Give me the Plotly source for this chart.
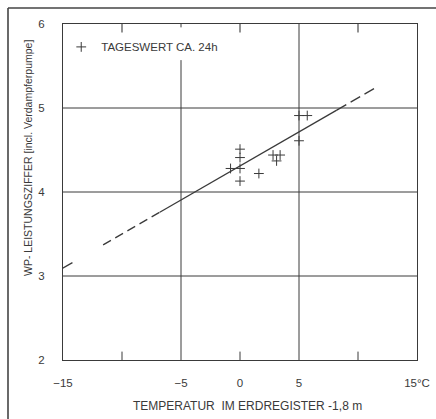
import plotly.graph_objects as go

# Daily values (Tageswerte)
temp = [5.0, 5.7, 5.0, 0.0, 0.0, -0.8, 0.0, 0.0, 1.6, 2.8, 3.1, 3.4]
cop = [4.91, 4.91, 4.61, 4.51, 4.41, 4.28, 4.28, 4.13, 4.22, 4.44, 4.37, 4.44]

# Regression line
fit_intercept = 4.31
fit_slope = 0.081
fit_dash_a = [-15.1, -14.2]
fit_dash_b = [-11.6, -6.8]
fit_solid = [-6.8, 8.2]
fit_dash_c = [8.2, 11.4]

x_ticks = [-15, -5, 0, 5, 15]
x_ticktext = ["\u221215", "\u22125", "0", "5", "15\u00b0C"]
y_ticks = [2, 3, 4, 5, 6]
x_grid = [5]
x_grid_partial = [-5]
y_grid = [3, 4, 5]
x_minor_bottom = [-10, 0, 10]
x_minor_top = [-10, 0, 10]

x_title = "TEMPERATUR  IM ERDREGISTER -1,8 m"
y_title = "WP- LEISTUNGSZIFFER [incl. Verdampferpumpe]"

INK = "#3a3a3a"
FONT = "Liberation Sans, DejaVu Sans, sans-serif"


def fy(xs):
    return [fit_intercept + fit_slope * v for v in xs]


fig = go.Figure()

for seg, dash in [(fit_dash_a, "solid"), (fit_dash_b, "9px,5px"),
                  (fit_solid, "solid"), (fit_dash_c, "11px,5px")]:
    fig.add_trace(go.Scatter(x=seg, y=fy(seg), mode="lines", showlegend=False,
                             line=dict(color=INK, width=1.3, dash=dash),
                             hoverinfo="skip", cliponaxis=False))

fig.add_trace(go.Scatter(
    x=temp, y=cop, mode="markers", name="TAGESWERT CA. 24h",
    marker=dict(symbol="cross-thin", size=7, line=dict(color=INK, width=1), color=INK),
))

shapes = []
for g in y_grid:
    shapes.append(dict(type="line", xref="x", yref="y", x0=-15, x1=15, y0=g, y1=g,
                       line=dict(color=INK, width=1)))
for g in x_grid:
    shapes.append(dict(type="line", xref="x", yref="y", x0=g, x1=g, y0=2, y1=6,
                       line=dict(color=INK, width=1)))
for g in x_grid_partial:
    shapes.append(dict(type="line", xref="x", yref="y", x0=g, x1=g, y0=2, y1=5.57,
                       line=dict(color=INK, width=1)))
for t in x_minor_bottom:
    shapes.append(dict(type="line", xref="x", yref="y", x0=t, x1=t, y0=1.98, y1=2.1,
                       line=dict(color=INK, width=1)))
for t in x_minor_top:
    shapes.append(dict(type="line", xref="x", yref="y", x0=t, x1=t, y0=5.9, y1=6.04,
                       line=dict(color=INK, width=1.1)))
# small top tick at -5
shapes.append(dict(type="line", xref="x", yref="y", x0=-5, x1=-5, y0=5.96, y1=6.0,
                   line=dict(color=INK, width=1)))
# outer frame (top and left edges) in pixel-based paper fractions
fx = (8 - 63) / 354
fy_top = 1 + (24 - 8) / 336
shapes.append(dict(type="line", xref="paper", yref="paper",
                   x0=fx, x1=(436 - 63) / 354, y0=fy_top, y1=fy_top,
                   line=dict(color="#444", width=1.6)))
shapes.append(dict(type="line", xref="paper", yref="paper",
                   x0=fx, x1=fx, y0=-(59 / 336), y1=fy_top,
                   line=dict(color="#444", width=1.6)))

annotations = [
    dict(text=x_title, xref="paper", yref="paper", x=(247 - 63) / 354, y=-(406 - 360) / 336,
         xanchor="center", yanchor="middle", showarrow=False,
         font=dict(size=12, color=INK, family=FONT)),
    dict(text=y_title, xref="paper", yref="paper", x=(28 - 63) / 354, y=(360 - 158) / 336,
         xanchor="center", yanchor="middle", showarrow=False, textangle=-90,
         font=dict(size=10.5, color=INK, family=FONT)),
]

fig.update_layout(
    width=436, height=419,
    margin=dict(l=63, r=19, t=24, b=59, autoexpand=False),
    paper_bgcolor="white", plot_bgcolor="white",
    font=dict(family=FONT, size=11.5, color=INK),
    shapes=shapes,
    annotations=annotations,
    showlegend=True,
    legend=dict(x=-0.005, y=0.975, xanchor="left", yanchor="top",
                bgcolor="rgba(0,0,0,0)", font=dict(size=11.5, color=INK),
                itemwidth=30),
    xaxis=dict(range=[-15, 15], tickvals=x_ticks, ticktext=x_ticktext,
               showgrid=False, zeroline=False, showline=True, mirror=True,
               linecolor=INK, linewidth=1.2, ticks="", ticklabelstandoff=12,
               automargin=False),
    yaxis=dict(range=[2, 6], tickvals=y_ticks,
               showgrid=False, zeroline=False, showline=True, mirror=True,
               linecolor=INK, linewidth=1.2, ticks="", ticklabelstandoff=15,
               automargin=False),
)

fig.write_html("out.html", config={"displayModeBar": False},
               post_script="document.body.style.margin='0px';")
